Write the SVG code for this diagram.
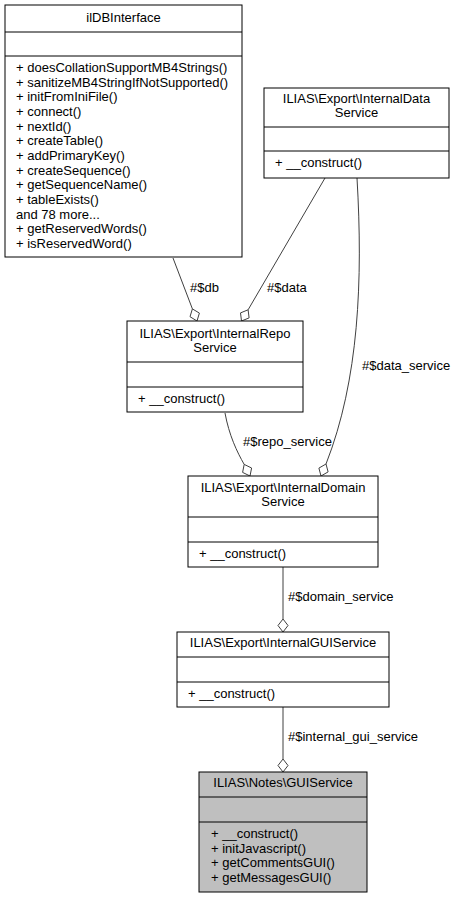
<svg xmlns="http://www.w3.org/2000/svg" width="457" height="897" viewBox="0 0 457 897">
<style>
text{font-family:"Liberation Sans",Arial,sans-serif;font-size:13px;fill:#000}
.t{text-anchor:middle}
.box{fill:#fff;stroke:#000;stroke-width:1}
.cur{fill:#bfbfbf;stroke:#000;stroke-width:1}
.sep{stroke:#000;stroke-width:1}
.edge{fill:none;stroke:#404040;stroke-width:1}
.dia{fill:#fff;stroke:#404040;stroke-width:1}
</style>
<rect width="457" height="897" fill="#fff"/>
<g id="connectors">
<path class="edge" d="M173,258 L192.4,308.9"/>
<polygon class="dia" points="192.4,308.9 199.4,313.1 197,321 190,316.7"/>
<text x="190" y="292">#$db</text>
<path class="edge" d="M325,178 L248.1,309.8"/>
<polygon class="dia" points="248.1,309.8 249.1,317.9 241.5,321 240.5,312.9"/>
<text x="267" y="292">#$data</text>
<path class="edge" d="M357,178 C363,280 359,380 326,464"/>
<polygon class="dia" points="326,464 328.1,471.9 321,476 318.9,468.1"/>
<text x="362" y="370">#$data_service</text>
<path class="edge" d="M225,413 C229,435 237,452 244.2,464.4"/>
<polygon class="dia" points="244.2,464.4 251.6,468 250,476 242.6,472.4"/>
<text x="243" y="446">#$repo_service</text>
<path class="edge" d="M283,567 L283,619"/>
<polygon class="dia" points="283,619 288,625.5 283,632 278,625.5"/>
<text x="288" y="601">#$domain_service</text>
<path class="edge" d="M283,707 L283,759"/>
<polygon class="dia" points="283,759 288,765.5 283,772 278,765.5"/>
<text x="288" y="741">#$internal_gui_service</text>
</g>
<g id="ilDBInterface">
<rect class="box" x="5" y="5" width="237" height="252"/>
<line class="sep" x1="5" y1="32" x2="242" y2="32"/>
<line class="sep" x1="5" y1="56" x2="242" y2="56"/>
<text class="t" x="123.5" y="22">ilDBInterface</text>
<text x="16" y="72">+ doesCollationSupportMB4Strings()</text>
<text x="16" y="86.7">+ sanitizeMB4StringIfNotSupported()</text>
<text x="16" y="101.3">+ initFromIniFile()</text>
<text x="16" y="116">+ connect()</text>
<text x="16" y="130.7">+ nextId()</text>
<text x="16" y="145.3">+ createTable()</text>
<text x="16" y="160">+ addPrimaryKey()</text>
<text x="16" y="174.7">+ createSequence()</text>
<text x="16" y="189.3">+ getSequenceName()</text>
<text x="16" y="204">+ tableExists()</text>
<text x="16" y="218.7">and 78 more...</text>
<text x="16" y="233.3">+ getReservedWords()</text>
<text x="16" y="248">+ isReservedWord()</text>
</g>
<g id="InternalDataService">
<rect class="box" x="264" y="88" width="185" height="90"/>
<line class="sep" x1="264" y1="127" x2="449" y2="127"/>
<line class="sep" x1="264" y1="151" x2="449" y2="151"/>
<text class="t" x="356.5" y="103">ILIAS\Export\InternalData</text>
<text class="t" x="356.5" y="117">Service</text>
<text x="275" y="167">+ __construct()</text>
</g>
<g id="InternalRepoService">
<rect class="box" x="127" y="321" width="176" height="91"/>
<line class="sep" x1="127" y1="362" x2="303" y2="362"/>
<line class="sep" x1="127" y1="387" x2="303" y2="387"/>
<text class="t" x="215" y="338">ILIAS\Export\InternalRepo</text>
<text class="t" x="215" y="352">Service</text>
<text x="138" y="403">+ __construct()</text>
</g>
<g id="InternalDomainService">
<rect class="box" x="188" y="476" width="190" height="91"/>
<line class="sep" x1="188" y1="517" x2="378" y2="517"/>
<line class="sep" x1="188" y1="542" x2="378" y2="542"/>
<text class="t" x="283" y="492">ILIAS\Export\InternalDomain</text>
<text class="t" x="283" y="506">Service</text>
<text x="199" y="558">+ __construct()</text>
</g>
<g id="InternalGUIService">
<rect class="box" x="177" y="632" width="212" height="75"/>
<line class="sep" x1="177" y1="657" x2="389" y2="657"/>
<line class="sep" x1="177" y1="682" x2="389" y2="682"/>
<text class="t" x="283" y="647">ILIAS\Export\InternalGUIService</text>
<text x="188" y="698">+ __construct()</text>
</g>
<g id="NotesGUIService">
<rect class="cur" x="199" y="772" width="168" height="120"/>
<line class="sep" x1="199" y1="797" x2="367" y2="797"/>
<line class="sep" x1="199" y1="822" x2="367" y2="822"/>
<text class="t" x="283" y="787">ILIAS\Notes\GUIService</text>
<text x="211" y="838">+ __construct()</text>
<text x="211" y="852.7">+ initJavascript()</text>
<text x="211" y="867.3">+ getCommentsGUI()</text>
<text x="211" y="882">+ getMessagesGUI()</text>
</g>
</svg>
